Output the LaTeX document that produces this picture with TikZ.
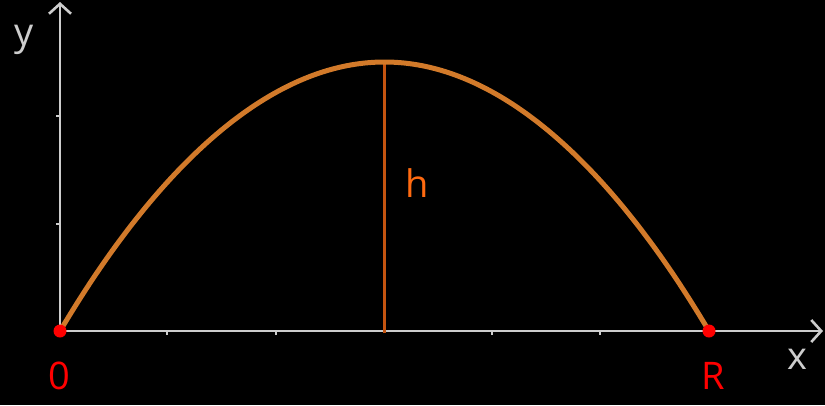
\documentclass[tikz,border=0pt]{standalone}
\usepackage{fontspec}
\setmainfont{Open Sans}
\usetikzlibrary{arrows.meta}
\definecolor{axisgray}{RGB}{205,205,205}
\definecolor{curveor}{RGB}{210,122,42}
\definecolor{hline}{RGB}{196,84,16}
\definecolor{hlabel}{RGB}{255,106,16}
\definecolor{lblred}{RGB}{255,0,0}
\tikzset{
  axis/.style={draw=axisgray, line width=2.6pt},
  tick/.style={draw=axisgray, line width=2.6pt},
  lbl/.style={font=\fontsize{38}{44}\selectfont, inner sep=0pt, anchor=center},
  dot/.style={circle, fill=lblred, minimum size=13pt, inner sep=0pt},
}
\begin{document}
\begin{tikzpicture}[x=1pt,y=-1pt]
\fill[black] (0,0) rectangle (825,405);
\useasboundingbox (0,0) rectangle (825,405);
\coordinate (O) at (60,331);
\coordinate (Xend) at (823,331);
\coordinate (Yend) at (60,2);
\coordinate (Top) at (384.5,62);
\coordinate (Base) at (384.5,333);
% axes
\draw[axis, -{Straight Barb[length=10pt, width=22pt, line width=2.6pt]}] (O) -- (Xend);
\draw[axis, -{Straight Barb[length=10pt, width=22pt, line width=2.6pt]}] (O) -- (Yend);
% ticks
\foreach \tx in {167,276,492,600}
  \draw[tick] (\tx,331) -- (\tx,335);
\foreach \ty in {116,224}
  \draw[tick] (60,\ty) -- (56,\ty);
% height line
\draw[hline, line width=2.6pt] (Base) -- (Top);
% trajectory
\draw[curveor, line width=5pt] (60,331) parabola bend (Top) (709,331);
% points
\node[dot] (P0) at (60,331) {};
\node[dot] (PR) at (709,331) {};
% labels
\node[lbl, text=lblred] (l0) at (59,376) {0};
\node[lbl, text=lblred] (lR) at (713,376) {R};
\node[lbl, text=axisgray] (lx) at (797,359) {x};
\node[lbl, text=axisgray] (ly) at (24,40) {y};
\node[lbl, text=hlabel] (lh) at (417,183) {h};
\end{tikzpicture}
\end{document}
